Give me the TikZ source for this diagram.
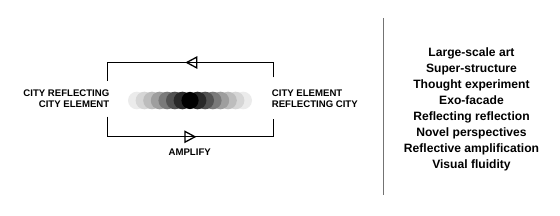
\documentclass[tikz,border=0pt]{standalone}
\usepackage{fontspec}
\setmainfont{Liberation Sans}
\usetikzlibrary{arrows.meta,decorations.markings}

\begin{document}
\begin{tikzpicture}[
    x=1pt, y=-1pt,
    label/.style={font=\fontsize{9.6}{10.8}\selectfont\bfseries, inner xsep=0pt},
    listtext/.style={align=center, inner sep=0pt, font=\fontsize{12.1}{16.1}\selectfont\bfseries},
    loopline/.style={line width=1.3pt},
    arrowat/.style={postaction={decorate, decoration={markings, mark=at position #1 with {\arrow[line width=1.3pt]{Triangle[open, length=12pt, width=12.5pt]}}}}},
    divider/.style={draw=black!55, line width=1.2pt}
]
\useasboundingbox (0,0) rectangle (560,216);
% Corners of the loop
\coordinate (tl) at (107.3,62.5);
\coordinate (tr) at (273.3,62.5);
\coordinate (bl) at (107.3,136.8);
\coordinate (br) at (273.3,136.8);
% Labels
\node[label, align=right, inner ysep=9pt, anchor=north east] (lcity) at (109.5,80.6) {CITY REFLECTING\\CITY ELEMENT};
\node[label, align=left, inner ysep=12pt, anchor=north west] (rcity) at (271.7,77.3) {CITY ELEMENT\\REFLECTING CITY};
\node[label, anchor=base] (amplify) at (189.7,156) {AMPLIFY};
% Fading circles
\foreach \k/\g in {7/8,6/16,5/26,4/38,3/52,2/68,1/84}{
  \fill[black!\g] (190-7.6*\k,100.5) circle [radius=8.8pt];
  \fill[black!\g] (190+7.6*\k,100.5) circle [radius=8.8pt];
}
\fill[black] (190,100.5) circle [radius=8.6pt];
% Loop
\draw[loopline, arrowat=102.8pt] (rcity.north -| tr) -- (tr) -- (tl) -- (lcity.north -| tl);
\draw[loopline, arrowat=109.3pt] (lcity.south -| bl) -- (bl) -- (br) -- (rcity.south -| br);
% Divider and list
\draw[divider] (383.3,18) -- (383.3,195);
\node[listtext, anchor=north] (list) at (471.5,47.2) {Large-scale art\\Super-structure\\Thought experiment\\Exo-facade\\Reflecting reflection\\Novel perspectives\\Reflective amplification\\Visual fluidity};
\end{tikzpicture}
\end{document}
